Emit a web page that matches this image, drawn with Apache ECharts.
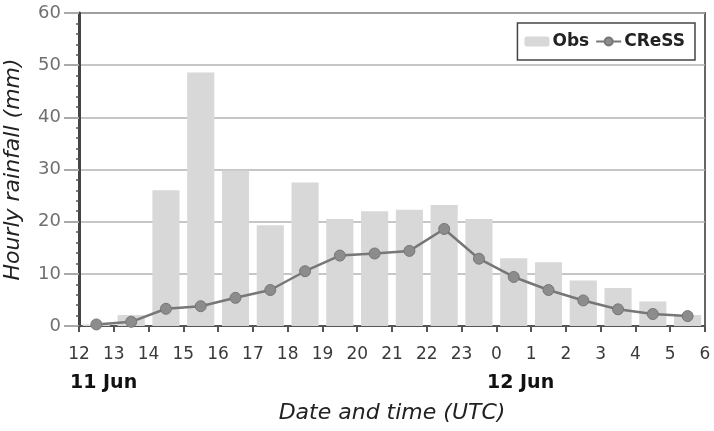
<!DOCTYPE html>
<html>
<head>
<meta charset="utf-8">
<script src="https://cdn.jsdelivr.net/npm/echarts@6/dist/echarts.min.js"></script>
<style>
  html, body { margin: 0; padding: 0; background: #fff; }
  #chart { width: 714px; height: 431px; }
</style>
</head>
<body>
<div id="chart"></div>
<script>
// hour boundaries shown on the x axis (UTC)
const hourLabels = ['12', '13', '14', '15', '16', '17', '18', '19', '20', '21', '22', '23', '0', '1', '2', '3', '4', '5', '6']
// one category per hour interval
const hours = hourLabels.slice(0, -1)
const obs = [0.3, 2.1, 26, 48.6, 29.8, 19.3, 27.5, 20.5, 22, 22.3, 23.2, 20.5, 13, 12.2, 8.7, 7.3, 4.7, 2.1]
const cress = [0.3, 0.8, 3.3, 3.8, 5.4, 6.9, 10.5, 13.5, 13.9, 14.4, 18.6, 12.9, 9.4, 6.9, 4.9, 3.2, 2.3, 1.9]
const yTicks = { min: 0, max: 60, step: 10 }

const font = "'DejaVu Sans', 'Liberation Sans', sans-serif"
const chart = echarts.init(document.getElementById('chart'))

chart.setOption({
  animation: false,
  textStyle: { fontFamily: font },
  grid: {
    left: 79, right: 9, top: 13, bottom: 105,
    outerBoundsMode: 'none',
    containLabel: false,
    show: true,
    borderColor: '#666',
    borderWidth: 2,
  },
  legend: {
    data: ['Obs', 'CReSS'],
    right: 19,
    top: 23,
    itemGap: 6,
    itemWidth: 25,
    itemHeight: 10,
    padding: [10, 10, 10, 7],
    borderColor: '#444',
    borderWidth: 1.5,
    textStyle: { color: '#222', fontSize: 17, fontWeight: 'bold', fontFamily: font, padding: [0, 0, 0, -2] },
  },
  xAxis: [
    {
      type: 'category',
      data: hours,
      boundaryGap: true,
      axisLine: { lineStyle: { color: '#555', width: 2 } },
      axisTick: { show: true, length: 6, lineStyle: { color: '#555', width: 2 } },
      axisLabel: { show: false },
      splitLine: { show: false },
      name: 'Date and time (UTC)',
      nameLocation: 'middle',
      nameGap: 76,
      nameTextStyle: { fontSize: 22, fontStyle: 'italic', color: '#222', fontFamily: font },
    },
    {
      type: 'value',
      position: 'bottom',
      min: 0,
      max: hourLabels.length - 1,
      interval: 1,
      axisLine: { show: false },
      axisTick: { show: false },
      splitLine: { show: false },
      axisLabel: {
        margin: 20,
        fontSize: 17,
        color: '#3a3a3a',
        fontFamily: font,
        formatter: v => hourLabels[v],
      },
    },
  ],
  yAxis: {
    type: 'value',
    min: yTicks.min,
    max: yTicks.max,
    interval: yTicks.step,
    axisLine: { show: true, lineStyle: { color: '#444', width: 3 } },
    axisTick: { show: true, length: 15, lineStyle: { color: '#aaa', width: 2 } },
    minorTick: { show: true, splitNumber: 5, length: 3, lineStyle: { color: '#555', width: 1.5 } },
    axisLabel: { fontSize: 18, color: '#707070', margin: 18, fontFamily: font },
    splitLine: { lineStyle: { color: '#b3b3b3', width: 1.5 } },
    name: 'Hourly rainfall (mm)',
    nameLocation: 'middle',
    nameGap: 55,
    nameTextStyle: { fontSize: 22, fontStyle: 'italic', color: '#222', fontFamily: font },
  },
  graphic: [
    { type: 'text', left: 70, top: 374, style: { text: '11 Jun', font: `bold 19px ${font}`, fill: '#111' } },
    { type: 'text', left: 487, top: 374, style: { text: '12 Jun', font: `bold 19px ${font}`, fill: '#111' } },
  ],
  series: [
    {
      name: 'Obs',
      type: 'bar',
      xAxisIndex: 0,
      data: obs,
      barCategoryGap: '22%',
      itemStyle: { color: '#d8d8d8' },
    },
    {
      name: 'CReSS',
      type: 'line',
      xAxisIndex: 0,
      data: cress,
      symbol: 'circle',
      symbolSize: 11,
      lineStyle: { color: '#777', width: 2.5 },
      itemStyle: { color: '#8c8c8c', borderColor: '#777', borderWidth: 1 },
    },
  ],
})
</script>
</body>
</html>
